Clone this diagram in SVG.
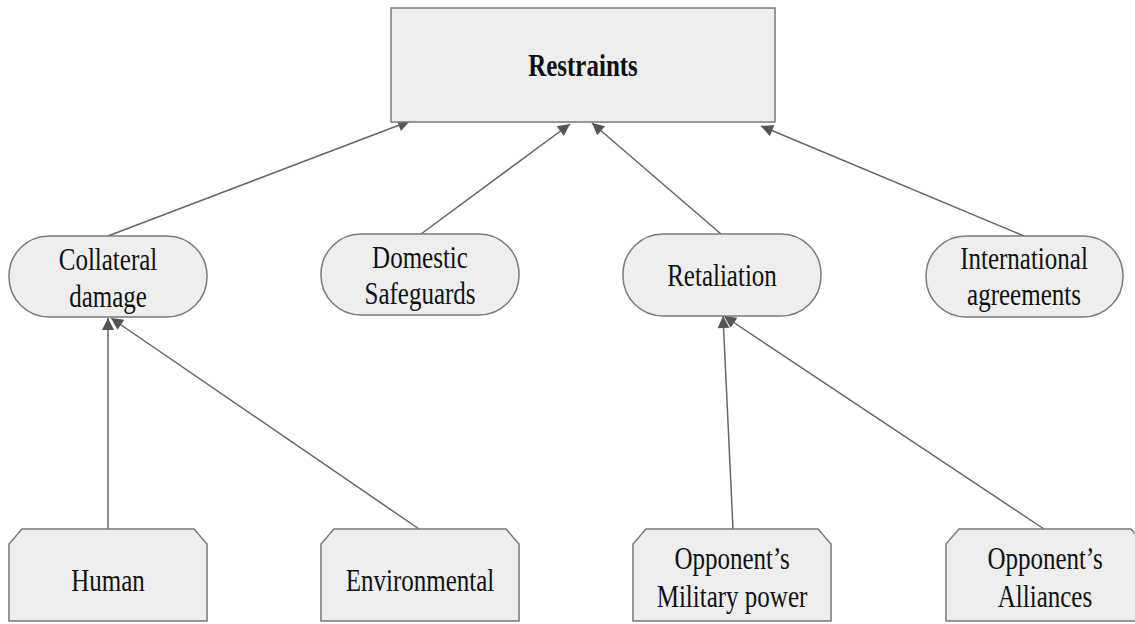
<svg xmlns="http://www.w3.org/2000/svg" width="1135" height="624" viewBox="0 0 1135 624">
  <style>
    .box { fill: #eeeeee; stroke: #7a7a7a; stroke-width: 1.5; }
    .lbl { font-family: "Liberation Serif", "Times New Roman", serif; font-size: 25px; fill: #111; text-anchor: middle; }
    .title { font-weight: bold; }
    .edge { stroke: #666; stroke-width: 1.5; fill: none; }
  </style>
  <defs>
    <marker id="arrow" viewBox="0 0 10 10" refX="10" refY="5" markerWidth="15" markerHeight="12" markerUnits="userSpaceOnUse" orient="auto">
      <path d="M0,0 L10,5 L0,10 z" fill="#555"/>
    </marker>
  </defs>

  <g id="connectors">
    <line class="edge" x1="108" y1="236" x2="410" y2="121" marker-end="url(#arrow)"/>
    <line class="edge" x1="421" y1="234" x2="570" y2="124" marker-end="url(#arrow)"/>
    <line class="edge" x1="721" y1="234" x2="592" y2="123" marker-end="url(#arrow)"/>
    <line class="edge" x1="1024" y1="236" x2="761" y2="126" marker-end="url(#arrow)"/>
    <line class="edge" x1="108" y1="529" x2="108" y2="318" marker-end="url(#arrow)"/>
    <line class="edge" x1="419" y1="529" x2="111" y2="318" marker-end="url(#arrow)"/>
    <line class="edge" x1="733" y1="529" x2="723" y2="316" marker-end="url(#arrow)"/>
    <line class="edge" x1="1044" y1="529" x2="724" y2="316" marker-end="url(#arrow)"/>
  </g>

  <!-- labels use a tall, narrow serif: same advance widths, stretched vertically -->
  <g id="restraints">
    <rect class="box" x="391" y="8" width="384" height="114"/>
    <text class="lbl title" transform="translate(583,76) scale(1,1.26)">Restraints</text>
  </g>

  <g id="collateral-damage">
    <rect class="box" x="9" y="236" width="198" height="81" rx="40" ry="40"/>
    <text class="lbl" transform="translate(108,270) scale(1,1.28)">Collateral</text>
    <text class="lbl" transform="translate(108,307) scale(1,1.28)">damage</text>
  </g>

  <g id="domestic-safeguards">
    <rect class="box" x="321" y="234" width="198" height="81" rx="40" ry="40"/>
    <text class="lbl" transform="translate(420,268) scale(1,1.28)">Domestic</text>
    <text class="lbl" transform="translate(420,304) scale(1,1.28)">Safeguards</text>
  </g>

  <g id="retaliation">
    <rect class="box" x="623" y="234" width="198" height="82" rx="40" ry="40"/>
    <text class="lbl" transform="translate(722,286) scale(1,1.28)">Retaliation</text>
  </g>

  <g id="international-agreements">
    <rect class="box" x="926" y="236" width="197" height="81" rx="40" ry="40"/>
    <text class="lbl" transform="translate(1024,269) scale(1,1.28)">International</text>
    <text class="lbl" transform="translate(1024,305) scale(1,1.28)">agreements</text>
  </g>

  <g id="human">
    <path class="box" d="M9,544 L22,529 L194,529 L207,544 L207,621 L9,621 Z"/>
    <text class="lbl" transform="translate(108,591) scale(1,1.28)">Human</text>
  </g>

  <g id="environmental">
    <path class="box" d="M321,544 L334,529 L506,529 L519,544 L519,621 L321,621 Z"/>
    <text class="lbl" transform="translate(420,591) scale(1,1.28)">Environmental</text>
  </g>

  <g id="military-power">
    <path class="box" d="M633,544 L646,529 L818,529 L831,544 L831,621 L633,621 Z"/>
    <text class="lbl" transform="translate(732,569) scale(1,1.28)">Opponent’s</text>
    <text class="lbl" transform="translate(732,607) scale(1,1.28)">Military power</text>
  </g>

  <g id="alliances">
    <path class="box" d="M946,544 L959,529 L1131,529 L1144,544 L1144,621 L946,621 Z"/>
    <text class="lbl" transform="translate(1045,569) scale(1,1.28)">Opponent’s</text>
    <text class="lbl" transform="translate(1045,607) scale(1,1.28)">Alliances</text>
  </g>
</svg>
